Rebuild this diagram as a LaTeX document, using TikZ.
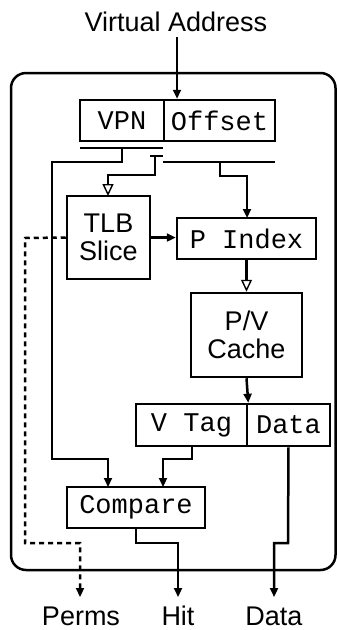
\documentclass[tikz,border=0pt]{standalone}
\usepackage{fontspec}
\setmainfont{Liberation Sans}
\setmonofont{Liberation Mono}
\usetikzlibrary{arrows.meta}
\begin{document}
\begin{tikzpicture}[x=1pt,y=-1pt,line width=2.5pt,
  box/.style={draw,inner sep=0pt,font=\fontsize{27}{29}\selectfont\ttfamily},
  sbox/.style={draw,inner sep=0pt,align=center,font=\fontsize{27}{28}\selectfont},
  lbl/.style={inner sep=0pt,anchor=base,font=\fontsize{27}{28}\selectfont},
  arr/.style={-{Triangle[length=9pt,width=8pt]}},
  oarr/.style={-{Triangle[open,length=12pt,width=11pt,line width=1.4pt]}},
  bar/.style={line width=2.8pt}]
\useasboundingbox (0,0) rectangle (337,630);
% outer frame
\draw[rounded corners=15pt] (11,73) rectangle (335.5,570);
% nodes
\node[box,minimum width=84pt,minimum height=41pt] (vpn) at (122,120.5) {VPN};
\node[box,minimum width=111pt,minimum height=41pt] (off) at (219.5,120.5) {Offset};
\node[sbox,minimum width=83pt,minimum height=83pt] (tlb) at (108.5,237.5) {TLB\\Slice};
\node[box,minimum width=139pt,minimum height=41pt] (pidx) at (246.5,238.5) {P Index};
\node[sbox,minimum width=111pt,minimum height=84pt] (cache) at (246.5,335) {P/V\\Cache};
\node[box,minimum width=111pt,minimum height=42pt] (vtag) at (191.5,425) {V Tag};
\node[box,minimum width=83pt,minimum height=42pt] (data) at (288.5,425) {Data};
\node[box,minimum width=138pt,minimum height=41pt] (cmp) at (136,507.5) {Compare};
\node[lbl] (va) at (176,31) {Virtual Address};
\node[lbl] (perms) at (81,625) {Perms};
\node[lbl] (hit) at (178,625) {Hit};
\node[lbl] (dout) at (274,625) {Data};
% bit-field bars
\coordinate (vbL) at (80,148); \coordinate (vbR) at (163,148);
\coordinate (ibL) at (150,156); \coordinate (ibR) at (163,156);
\coordinate (obL) at (163,162); \coordinate (obR) at (275,162);
\draw[bar] (vbL) -- (vbR);
\draw[bar] (ibL) -- (ibR);
\draw[bar] (obL) -- (obR);
\coordinate (vb) at (122,148);
\coordinate (ib) at (155,156);
\coordinate (ob) at (220,162);
\coordinate (vtop) at (177,37);
% connectors
\draw[arr] (vtop) -- (vtop |- off.north);
\draw[arr] (vb) -- (122,162) -- (52,162) -- (52,459) -- (108,459) -- (108,487);
\draw[oarr] (ib) -- (155,175) -- (108,175) -- (108,196);
\draw[arr] (ob) -- (220,176) -- (247,176) -- (247,218);
\draw[arr] (tlb.east) -- (pidx.west |- tlb.east);
\draw[oarr] (pidx.south) -- (cache.north);
\draw[arr] (cache.south) -- (vtag.north east);
\draw[arr] (192,446) -- (192,459) -- (163,459) -- (163,487);
\draw[arr] (cmp.south) -- (136,543) -- (178,543) -- (178,597);
\draw[arr] (data.south) -- (288,543) -- (274,543) -- (274,597);
\draw[arr,dash pattern=on 5pt off 4pt] (tlb.west) -- (25,238) -- (25,543) -- (80,543) -- (80,597);
\end{tikzpicture}
\end{document}
